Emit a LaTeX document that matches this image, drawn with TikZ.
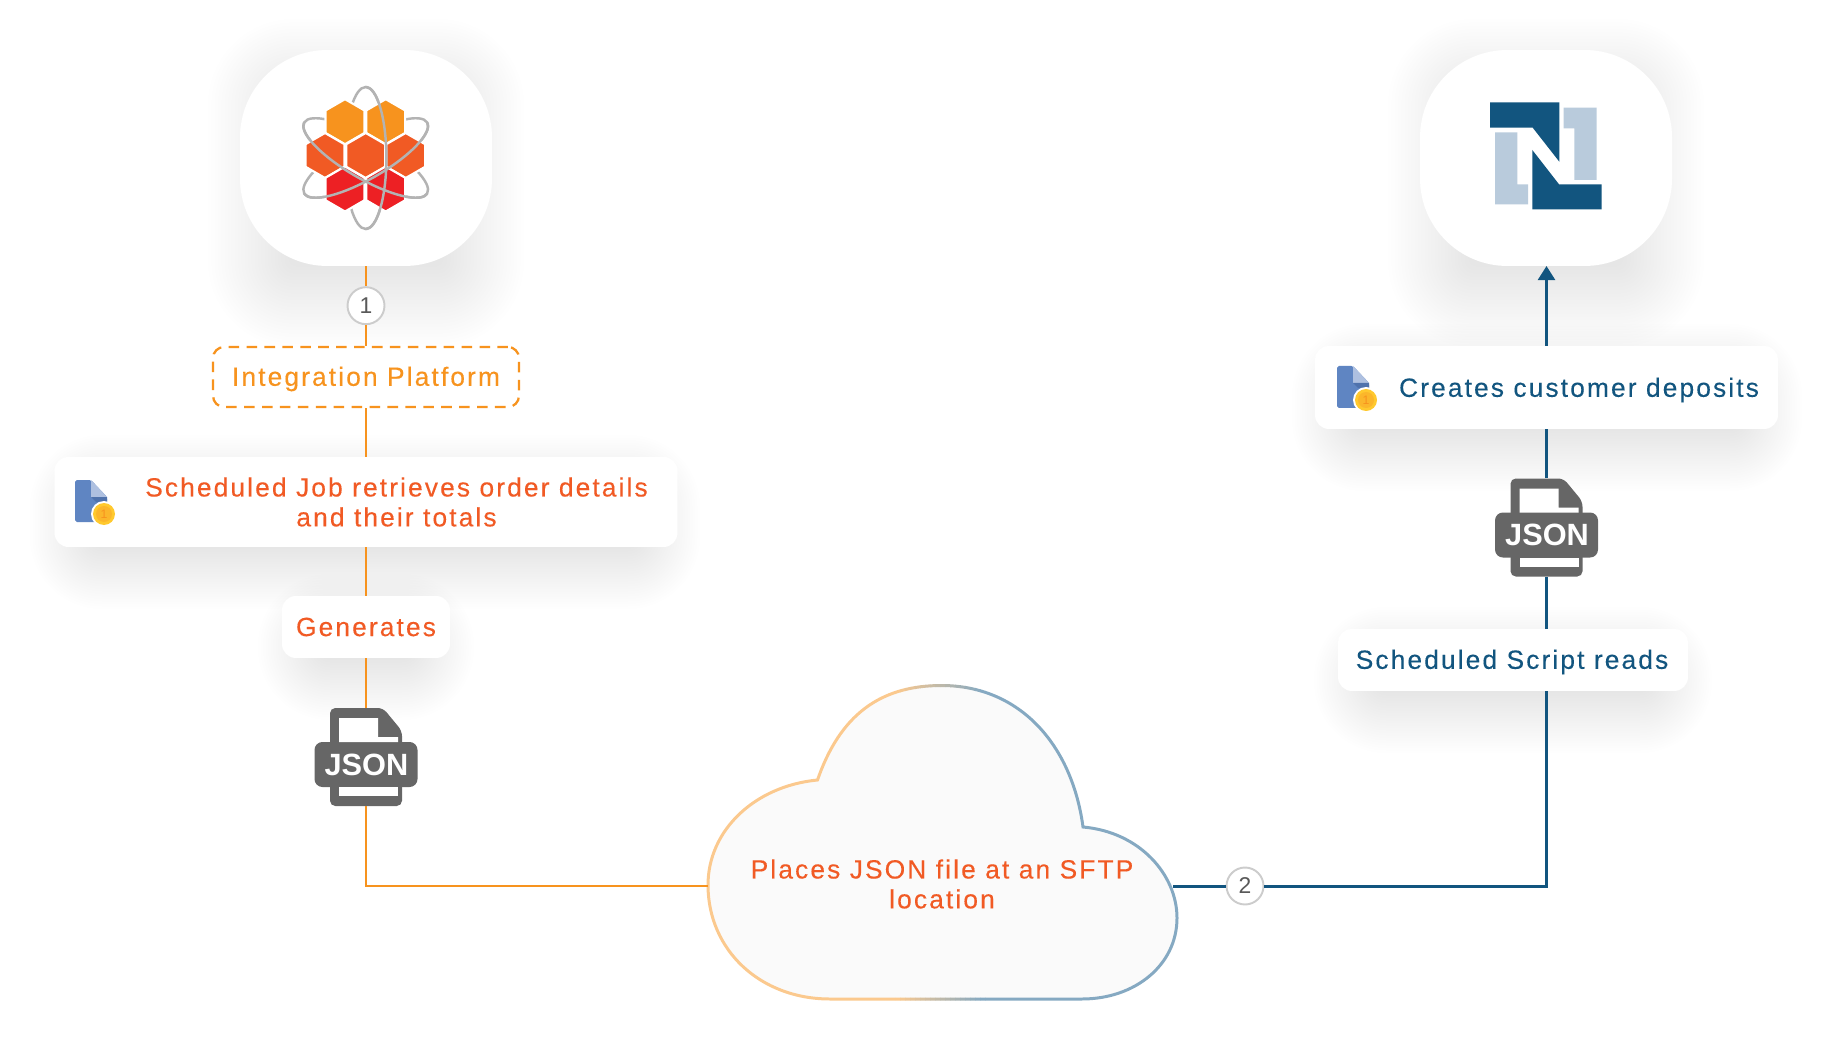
\documentclass[tikz,border=0pt]{standalone}
\usepackage{fontspec}
\setmainfont[LetterSpace=8,FakeBold=0.2]{Liberation Sans}
\newfontfamily\plainfont{Liberation Sans}
\usetikzlibrary{arrows.meta, calc}

\definecolor{flowOrange}{HTML}{F7931E}
\definecolor{flowRed}{HTML}{F15A24}
\definecolor{flowBlue}{HTML}{12557F}
\definecolor{lightBlue}{HTML}{B9CBDC}
\definecolor{hexRed}{HTML}{ED2024}
\definecolor{orbitGray}{HTML}{B3B3B3}
\definecolor{iconGray}{HTML}{666666}
\definecolor{docBlue}{HTML}{5F85C2}
\definecolor{docLight}{HTML}{AEC0E0}
\definecolor{docDark}{HTML}{4F72AC}
\definecolor{coinYellow}{HTML}{FFC92E}
\definecolor{coinInner}{HTML}{FBB62B}
\definecolor{cloudOrange}{HTML}{FBC98E}
\definecolor{cloudBlue}{HTML}{85A9C2}

\tikzset{
  card/.style={fill=white, rounded corners=0.28cm, inner sep=0pt},
  logocard/.style={fill=white, rounded corners=1.75cm, inner sep=0pt, minimum width=5.04cm, minimum height=4.32cm},
  stepcircle/.style={circle, draw=black!20, line width=1.1pt, fill=white, inner sep=0pt, minimum size=0.74cm, text=black!65, font=\plainfont\fontsize{13}{13}\selectfont},
  cardtext/.style={font=\fontsize{15}{17}\selectfont, align=center, inner sep=0pt},
  orangeline/.style={draw=flowOrange, line width=1.2pt},
  orangemain/.style={draw=flowOrange, line width=1.6pt},
  blueline/.style={draw=flowBlue, line width=1.7pt},
  orbitline/.style={draw=orbitGray, line width=1.4pt},
  cloudshape/.style={insert path={
    (817.5,780) .. controls (840,715) and (880,685.5) .. (941.5,685.5)
    .. controls (1020,685.5) and (1072,745) .. (1083,827)
    .. controls (1140,832) and (1177,875) .. (1177,918)
    .. controls (1177,965) and (1135,999) .. (1082,999)
    -- (830,999)
    .. controls (760,999) and (708,950) .. (708,885)
    .. controls (708,830) and (755,786) .. (817.5,780) -- cycle}},
}

% blurred shadow below a box: x1, y1, x2, y2, spread, drop
\newcommand{\softshadow}[6]{
  \foreach \i in {0,...,24} {
    \pgfmathsetmacro{\growx}{#5*(\i/24-0.6)}
    \pgfmathsetmacro{\growy}{#5*(\i/24-0.3)}
    \pgfmathsetmacro{\rad}{max(10,30+\growy)*0.567}
    \fill[black, opacity=0.0036, rounded corners=\rad pt]
      (#1-\growx,#2-\growy+#6) rectangle (#3+\growx,#4+\growy+#6);
  }
}

% page with a JSON label
\newcommand{\jsonicon}[3]{
  \begin{scope}[shift={(#2,#3)}]
    \fill[iconGray, rounded corners=3pt] (-36,-49) -- (17,-49) -- (36,-26) -- (36,49) -- (-36,49) -- cycle;
    \fill[iconGray, rounded corners=4.5pt] (-51.5,-15) rectangle (51.5,30);
    \fill[white] (-27,-39) -- (12,-39) -- (12,-20) -- (32,-20) -- (32,-15) -- (-27,-15) -- cycle;
    \fill[white] (-27,30) rectangle (32,39);
    \node[text=white, inner sep=0pt, font=\plainfont\bfseries\fontsize{17.5}{17.5}\selectfont] (#1) at (0.5,7.5) {JSON};
  \end{scope}
}

% sheet with a coin
\newcommand{\docicon}[3]{
  \begin{scope}[shift={(#2,#3)}]
    \fill[docBlue, rounded corners=1pt] (0,0) -- (16,0) -- (32,17) -- (32,42) -- (0,42) -- cycle;
    \fill[docLight] (16,0) -- (32,17) -- (16,17) -- cycle;
    \fill[docDark] (16,17) -- (32,17) -- (32,22) -- (21,22) -- cycle;
    \fill[white] (29,34) circle (13);
    \fill[coinYellow] (29,34) circle (11);
    \fill[coinInner] (29,34) circle (8);
    \node[text=flowOrange, inner sep=0pt, font=\plainfont\fontsize{7}{7}\selectfont] (#1) at (29,34) {1};
  \end{scope}
}

\begin{document}
\begin{tikzpicture}[x=0.02cm, y=-0.02cm]
  \useasboundingbox (0,0) rectangle (1834,1050);

  % 影
  \softshadow{240}{50}{492}{266}{80}{25}
  \softshadow{1420}{50}{1672}{266}{80}{25}
  \softshadow{54}{457}{676}{547}{60}{20}
  \softshadow{282}{596}{450}{658}{60}{20}
  \softshadow{1316}{346}{1778}{429}{60}{20}
  \softshadow{1338}{629}{1688}{691}{60}{20}

  % left column
  \node[logocard] (sourcelogo) at (366,158) {};
  \node[stepcircle] (stepone) at (366,305.7) {1};
  \node[fill=white, rounded corners=0.22cm, draw=flowOrange, line width=1.3pt, dash pattern=on 6pt off 4.2pt, minimum width=6.12cm, minimum height=1.2cm, inner sep=0pt] (platform) at (366,377) {};
  \node[cardtext, text=flowOrange] (platformtext) at (366,379) {Integration Platform};
  \node[card, minimum width=12.46cm, minimum height=1.8cm] (jobcard) at (366,502) {};
  \node[cardtext, text=flowRed] (jobtext) at (396.5,502) {Scheduled Job retrieves order details\\and their totals};
  \docicon{jobdoc}{75}{480}
  \node[card, minimum width=3.36cm, minimum height=1.24cm] (generates) at (366,627) {};
  \node[cardtext, text=flowRed] (generatestext) at (366,627) {Generates};
  \jsonicon{jsonleft}{366}{757}
  \coordinate (jsonleftbottom) at (366,806);
  \coordinate (jsonlefttop) at (366,708);

  % cloud
  \fill[black!2, cloudshape];
  \begin{scope}
    \clip (690,670) rectangle (895,1010);
    \draw[cloudOrange, line width=1.7pt, cloudshape];
  \end{scope}
  \begin{scope}
    \clip (985,670) rectangle (1190,1010);
    \draw[cloudBlue, line width=1.7pt, cloudshape];
  \end{scope}
  \foreach \s in {0,...,17} {
    \pgfmathtruncatemacro{\mixval}{100-100*\s/17}
    \begin{scope}
      \clip (895+5*\s,670) rectangle (900.4+5*\s,1010);
      \draw[cloudOrange!\mixval!cloudBlue, line width=1.7pt, cloudshape];
    \end{scope}
  }
  \node[cardtext, text=flowRed] (cloudtext) at (942,884) {Places JSON file at an SFTP\\location};
  \coordinate (cloudwest) at (708,886);
  \coordinate (cloudeast) at (1173,886);
  \node[stepcircle] (steptwo) at (1245,886) {2};

  % right column
  \node[logocard] (targetlogo) at (1546,158) {};
  \node[card, minimum width=9.26cm, minimum height=1.66cm] (depositcard) at (1546.5,387.5) {};
  \node[cardtext, text=flowBlue] (deposittext) at (1579,390) {Creates customer deposits};
  \docicon{depositdoc}{1337}{366}
  \jsonicon{jsonright}{1546.5}{527.5}
  \coordinate (jsonrighttop) at (1546.5,478);
  \coordinate (jsonrightbottom) at (1546.5,577);
  \node[card, minimum width=7cm, minimum height=1.24cm] (readcard) at (1513,660) {};
  \node[cardtext, text=flowBlue] (readtext) at (1512,662) {Scheduled Script reads};
  \coordinate (readout) at (1546.5,691);
  \coordinate (readin) at (1546.5,629);
  \coordinate (targetin) at (1546.5,266);

  % connectors
  \draw[orangeline] (sourcelogo) -- (stepone);
  \draw[orangeline] (stepone) -- (platform);
  \draw[orangeline] (platform) -- (jobcard);
  \draw[orangeline] (jobcard) -- (generates);
  \draw[orangeline] (generates) -- (jsonlefttop);
  \draw[orangemain] (jsonleftbottom) |- (cloudwest);
  \draw[blueline] (cloudeast) -- (steptwo);
  \draw[blueline] (steptwo) -| (readout);
  \draw[blueline] (readin) -- (jsonrightbottom);
  \draw[blueline] (jsonrighttop) -- (depositcard);
  \draw[blueline, -{Triangle[length=8pt, width=9.6pt]}] (depositcard) -- (targetin);

  % source logo
  \draw[orbitline] (365.7,158) ellipse [x radius=20.7, y radius=71];
  \foreach \ang in {60,-60} {
    \begin{scope}[shift={(365.7,158)}, rotate=\ang]
      \draw[orbitline] (0,0) ellipse [x radius=20.7, y radius=71];
    \end{scope}
  }
  \foreach \cx/\cy/\col in {345/121.7/flowOrange, 385.7/121.7/flowOrange, 325/155.5/flowRed, 365.7/155.5/flowRed, 405.7/155.5/flowRed, 345/189/hexRed, 385.7/189/hexRed} {
    \fill[\col, draw=white, line width=1.2pt] (\cx,\cy) +(30:22.5) -- +(90:22.5) -- +(150:22.5) -- +(210:22.5) -- +(270:22.5) -- +(330:22.5) -- cycle;
  }
  \draw[orbitline, shift={(365.7,158)}] plot[domain=-90:90, samples=40, smooth] ({20.7*cos(\x)},{71*sin(\x)});
  \draw[orbitline, shift={(365.7,158)}, rotate=60] plot[domain=90:270, samples=40, smooth] ({20.7*cos(\x)},{71*sin(\x)});
  \draw[orbitline, shift={(365.7,158)}, rotate=-60] plot[domain=-90:90, samples=40, smooth] ({20.7*cos(\x)},{71*sin(\x)});

  % target logo
  \fill[flowBlue] (1490,102.3) -- (1559.3,102.3) -- (1559.3,161.7) -- (1532.7,127.7) -- (1490,127.7) -- cycle;
  \fill[flowBlue] (1532.3,150) -- (1559,184.3) -- (1601.7,184.3) -- (1601.7,209.3) -- (1532.3,209.3) -- cycle;
  \fill[lightBlue] (1563.7,107.7) -- (1596.7,107.7) -- (1596.7,180) -- (1574.3,180) -- (1574.3,128.3) -- (1563.7,128.3) -- cycle;
  \fill[lightBlue] (1495,132.3) -- (1517.3,132.3) -- (1517.3,184.3) -- (1528,184.3) -- (1528,204.3) -- (1495,204.3) -- cycle;
\end{tikzpicture}
\end{document}
